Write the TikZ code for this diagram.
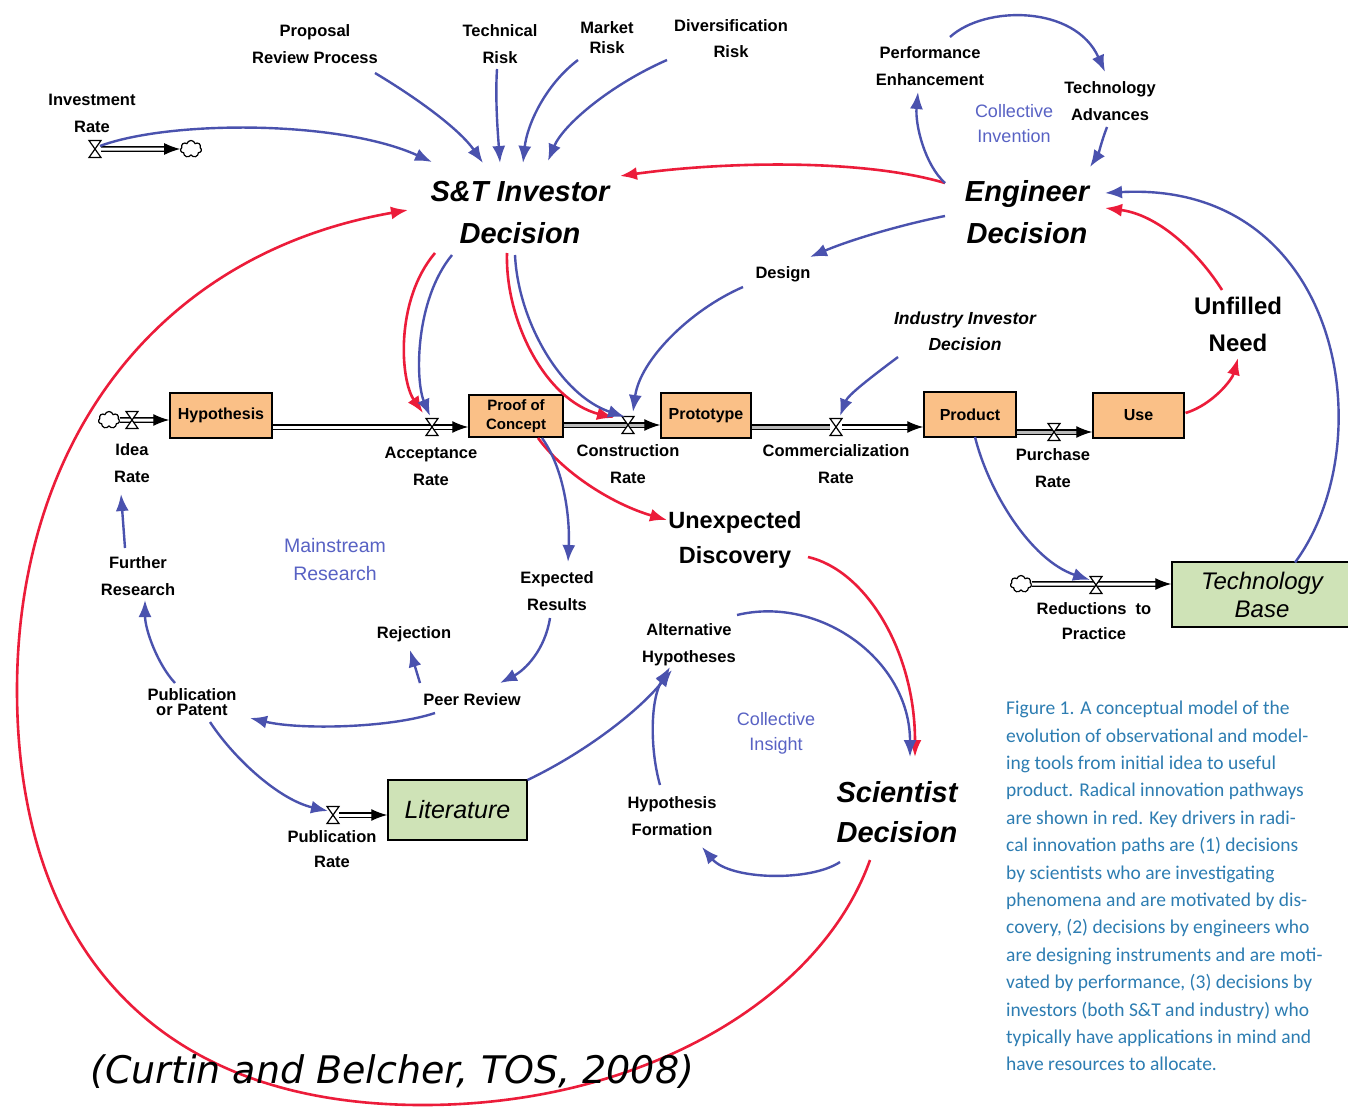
\documentclass[tikz,border=0pt]{standalone}
\usepackage{fontspec}
\setmainfont{Liberation Sans}
\newfontfamily\capfont{Carlito}
\newfontfamily\citefont{DejaVu Sans}[ItalicFont={DejaVu Sans Oblique}]
\usetikzlibrary{arrows.meta,calc,shapes.symbols}

\definecolor{lnkblue}{RGB}{74,82,174}
\definecolor{lnkred}{RGB}{236,28,58}
\definecolor{stockorange}{RGB}{250,192,135}
\definecolor{stockgreen}{RGB}{207,227,183}
\definecolor{captionblue}{RGB}{45,125,178}
\definecolor{loopblue}{RGB}{88,98,196}

\tikzset{
  lbl/.style={font=\bfseries\fontsize{16.5}{27}\selectfont, align=center, inner sep=1pt},
  big/.style={font=\bfseries\itshape\fontsize{29}{42}\selectfont, align=center, inner sep=1pt},
  mid/.style={font=\bfseries\fontsize{23.5}{36}\selectfont, align=center, inner sep=1pt},
  looplbl/.style={font=\fontsize{18}{25}\selectfont, text=loopblue, align=center, inner sep=1pt},
  stock/.style={draw, line width=1.5pt, fill=stockorange, align=center, inner sep=0pt,
    font=\bfseries\fontsize{16}{19}\selectfont},
  stockg/.style={draw, line width=1.5pt, fill=stockgreen, align=center, inner sep=0pt,
    font=\itshape\fontsize{25}{28}\selectfont},
  blink/.style={lnkblue, line width=2.4pt, -{Latex[length=17pt,width=13pt]}},
  rlink/.style={lnkred, line width=2.6pt, -{Latex[length=17pt,width=13pt]}},
  pipe/.style={draw=black, double=white, double distance=3pt, line width=1.3pt,
    -{Latex[length=16pt,width=12pt]}},
  pipeg/.style={pipe, double=gray!55},
  valvept/.style={inner sep=0pt, minimum width=12pt, minimum height=17pt},
  sink/.style={cloud, cloud puffs=7, draw, line width=1.2pt, fill=white,
    minimum width=21pt, minimum height=17pt, inner sep=0pt},
  valvepic/.pic={\filldraw[fill=white, line width=1.2pt]
    (-6,-8.5) -- (6,-8.5) -- (-6,8.5) -- (6,8.5) -- cycle;}
}

\begin{document}
\begin{tikzpicture}[x=1pt,y=-1pt]
\useasboundingbox (0,0) rectangle (1348,1108);
\fill[white] (0,0) rectangle (1348,1108);

% ---------- decision nodes ----------
\node[big] (st)  at (520,213) {S\&T Investor\\Decision};
\node[big] (eng) at (1027,212) {Engineer\\Decision};
\node[big, font=\bfseries\itshape\fontsize{29}{40}\selectfont] (sci) at (897,812) {Scientist\\Decision};

% ---------- auxiliary labels ----------
\node[lbl] (inv)  at (92,113)  {Investment\\Rate};
\node[lbl] (prop) at (315,44)  {Proposal\\Review Process};
\node[lbl] (tech) at (500,44)  {Technical\\Risk};
\node[lbl, font=\bfseries\fontsize{16.5}{20}\selectfont] (mkt) at (607,38) {Market\\Risk};
\node[lbl, font=\bfseries\fontsize{16.5}{26}\selectfont] (div) at (731,39) {Diversification\\Risk};
\node[lbl] (perf) at (930,66)  {Performance\\Enhancement};
\node[lbl] (tadv) at (1110,101) {Technology\\Advances};
\node[looplbl] (cinv) at (1014,124) {Collective\\Invention};
\node[lbl] (design) at (783,274) {Design};
\node[lbl, font=\bfseries\itshape\fontsize{17.5}{26}\selectfont] (ind) at (965,331) {Industry Investor\\Decision};
\node[mid, font=\bfseries\fontsize{24}{37}\selectfont] (unf) at (1238,324) {Unfilled\\Need};
\node[mid, font=\bfseries\fontsize{23.5}{35}\selectfont] (unex) at (735,540) {Unexpected\\Discovery};

% ---------- stocks ----------
\node[stock, minimum width=102pt, minimum height=45pt] (hyp)   at (221,415.5) {Hypothesis};
\node[stock, minimum width=94pt,  minimum height=42pt, font=\bfseries\fontsize{15}{19}\selectfont] (poc) at (516,416) {Proof of\\Concept};
\node[stock, minimum width=90pt,  minimum height=45pt] (proto) at (706,415.5) {Prototype};
\node[stock, minimum width=92pt,  minimum height=45pt] (prod)  at (970,414.5) {Product};
\node[stock, minimum width=91pt,  minimum height=45pt] (use)   at (1138.5,415.5) {Use};
\node[stockg, minimum width=180pt, minimum height=65pt, text width=160pt, font=\itshape\fontsize{24}{28}\selectfont] (tb) at (1262,594.5) {Technology\\Base};
\node[stockg, minimum width=139pt, minimum height=60pt] (lit) at (457.5,810) {Literature};

% ---------- valves and clouds ----------
\node[valvept] (vinv)  at (95,149)  {};
\node[valvept] (videa) at (132,420) {};
\node[valvept] (vacc)  at (432,427) {};
\node[valvept] (vcon)  at (628,425) {};
\node[valvept] (vcom)  at (836,427) {};
\node[valvept] (vpur)  at (1054,432) {};
\node[valvept] (vred)  at (1096,585) {};
\node[valvept] (vpub)  at (333,815) {};
\node[sink] (cinvc) at (191,149) {};
\node[sink] (cidea) at (109,420) {};
\node[sink] (cred)  at (1021,584) {};

% ---------- rate labels ----------
\node[lbl] (idea)  at (132,463)  {Idea\\Rate};
\node[lbl] (acc)   at (431,466)  {Acceptance\\Rate};
\node[lbl] (con)   at (628,464)  {Construction\\Rate};
\node[lbl] (com)   at (836,464)  {Commercialization\\Rate};
\node[lbl] (pur)   at (1053,468) {Purchase\\Rate};
\node[lbl, font=\bfseries\fontsize{16.5}{25}\selectfont] (redl) at (1094,621) {Reductions\ \ to\\Practice};
\node[lbl, font=\bfseries\fontsize{16.5}{25}\selectfont] (pubr) at (332,849)  {Publication\\Rate};

% ---------- research loop labels ----------
\node[lbl] (further) at (138,576) {Further\\Research};
\node[looplbl, font=\fontsize{19.5}{28}\selectfont] (mainr) at (335,560) {Mainstream\\Research};
\node[lbl] (expected) at (557,591) {Expected\\Results};
\node[lbl] (rejection) at (414,634) {Rejection};
\node[lbl] (alt) at (689,645) {Alternative\\Hypotheses};
\node[lbl] (peer) at (472,700) {Peer Review};
\node[lbl, font=\bfseries\fontsize{16.5}{15}\selectfont] (pubpat) at (192,702) {Publication\\or Patent};
\node[looplbl] (cins) at (776,733) {Collective\\Insight};
\node[lbl] (hform) at (672,816) {Hypothesis\\Formation};

% ---------- pipes ----------
\draw[pipe] (vinv) -- (cinvc.west);
\draw[pipe] (cidea.east) -- (hyp.west |- cidea);
\draw[pipe] (hyp.east |- vacc) -- (poc.west |- vacc);
\draw[pipeg] (poc.east |- vcon) -- (proto.west |- vcon);
\draw[pipeg, -] (proto.east |- vcom) -- (vcom);
\draw[pipe] (vcom) -- (prod.west |- vcom);
\draw[pipeg] (prod.east |- vpur) -- (use.west |- vpur);
\draw[pipe] (cred.east) -- (tb.west |- cred);
\draw[pipe] (vpub) -- (lit.west |- vpub);
\foreach \v in {vinv,videa,vacc,vcon,vcom,vpur,vred,vpub} \pic at (\v) {valvepic};

% ---------- red (radical innovation) links ----------
\draw[rlink] ($(eng)+(-82,-29)$) .. controls (860,158) and (720,162) .. ($(st)+(100,-37)$);
\draw[rlink] ($(st)+(-85,40)$) .. controls (395,300) and (400,380) .. ($(vacc)+(-9,-14)$);
\draw[rlink] ($(st)+(-13,40)$) .. controls (505,320) and (545,400) .. ($(vcon)+(-14,-7)$);
\draw[rlink] ($(poc)+(22,22)$) .. controls (565,475) and (615,505) .. ($(unex)+(-68,-20)$);
\draw[rlink] ($(unex)+(73,17)$) .. controls (865,570) and (915,650) .. ($(sci)+(18,-55)$);
\draw[rlink] ($(use)+(47,-2.5)$) .. controls (1212,405) and (1232,380) .. ($(unf)+(0,34)$);
\draw[rlink] ($(unf)+(-16,-34)$) .. controls (1200,255) and (1160,215) .. ($(eng)+(78,-4)$);
\draw[rlink] ($(sci)+(-27,48)$) .. controls (820,1000) and (640,1106) .. (420,1105)
   .. controls (140,1104) and (17,930) .. (17,690)
   .. controls (17,450) and (150,255) .. ($(st)+(-112,-3)$);

% ---------- blue (causal) links ----------
\draw[blink] ($(vinv)+(5,-3)$) .. controls (170,120) and (340,120) .. ($(st)+(-88,-51)$);
\draw[blink] ($(prop)+(60,29)$) .. controls (420,100) and (460,130) .. ($(st)+(-37,-50)$);
\draw[blink] ($(tech)+(-3,25)$) .. controls (495,100) and (498,135) .. ($(st)+(-20,-50)$);
\draw[blink] ($(mkt)+(-29,22)$) .. controls (545,85) and (527,125) .. ($(st)+(3,-50)$);
\draw[blink] ($(div)+(-64,21)$) .. controls (610,85) and (563,125) .. ($(st)+(28,-52)$);
\draw[blink] ($(eng)+(-82,-29)$) .. controls (925,165) and (915,125) .. ($(perf)+(-12,26)$);
\draw[blink] ($(perf)+(20,-29)$) .. controls (985,5) and (1075,5) .. ($(tadv)+(-5,-29)$);
\draw[blink] ($(tadv)+(-3,26)$) .. controls (1102,140) and (1098,155) .. ($(eng)+(63,-45)$);
\draw[blink] ($(tb)+(33,-32)$) .. controls (1385,440) and (1340,180) .. ($(eng)+(78,-19)$);
\draw[blink] ($(eng)+(-82,4)$) .. controls (900,225) and (850,240) .. ($(design)+(27,-17)$);
\draw[blink] ($(design)+(-40,13)$) .. controls (690,310) and (640,360) .. ($(vcon)+(5,-13)$);
\draw[blink] ($(ind)+(-67,26)$) .. controls (870,378) and (848,395) .. ($(vcom)+(4,-11)$);
\draw[blink] ($(st)+(-68,42)$) .. controls (415,300) and (415,380) .. ($(vacc)+(-2,-11)$);
\draw[blink] ($(st)+(-5,42)$) .. controls (518,320) and (560,395) .. ($(vcon)+(-3,-8)$);
\draw[blink] ($(poc)+(26,22)$) .. controls (565,470) and (570,520) .. ($(expected)+(11,-29)$);
\draw[blink] ($(prod)+(5,22.5)$) .. controls (988,490) and (1030,560) .. ($(vred)+(-6,-5)$);
\draw[blink] ($(expected)+(-7,27)$) .. controls (545,650) and (525,670) .. ($(peer)+(28,-17)$);
\draw[blink] ($(peer)+(-52,-17)$) -- ($(rejection)+(-4,16)$);
\draw[blink] ($(peer)+(-37,13)$) .. controls (390,728) and (300,730) .. ($(pubpat)+(58,16)$);
\draw[blink] ($(pubpat)+(-17,-19)$) .. controls (158,665) and (145,630) .. ($(further)+(7,24)$);
\draw[blink] ($(further)+(-13,-28)$) -- ($(idea)+(-11,31)$);
\draw[blink] ($(pubpat)+(18,20)$) .. controls (235,760) and (280,800) .. ($(vpub)+(-5,-4)$);
\draw[blink] ($(lit)+(70,-30)$) .. controls (580,755) and (635,715) .. ($(alt)+(-17,25)$);
\draw[blink] ($(hform)+(-12,-31)$) .. controls (650,750) and (650,700) .. ($(alt)+(-19,22)$);
\draw[blink] ($(sci)+(-57,50)$) .. controls (810,882) and (730,880) .. ($(hform)+(30,31)$);
\draw[blink] ($(alt)+(48,-30)$) .. controls (820,595) and (910,660) .. ($(sci)+(13,-55)$);

% ---------- caption and citation ----------
\node[anchor=north west, inner sep=0pt, align=left, text=captionblue,
      font=\capfont\fontsize{19.5}{27.4}\selectfont] (cap) at (1006,701)
 {Figure 1. A conceptual model of the\\
  evolution of observational and model-\\
  ing tools from initial idea to useful\\
  product. Radical innovation pathways\\
  are shown in red. Key drivers in radi-\\
  cal innovation paths are (1) decisions\\
  by scientists who are investigating\\
  phenomena and are motivated by dis-\\
  covery, (2) decisions by engineers who\\
  are designing instruments and are moti-\\
  vated by performance, (3) decisions by\\
  investors (both S\&T and industry) who\\
  typically have applications in mind and\\
  have resources to allocate.};
\node[anchor=base west, inner sep=0pt, font=\citefont\itshape\fontsize{38}{40}\selectfont] (cite) at (90,1083)
 {(Curtin and Belcher, TOS, 2008)};
\end{tikzpicture}
\end{document}
